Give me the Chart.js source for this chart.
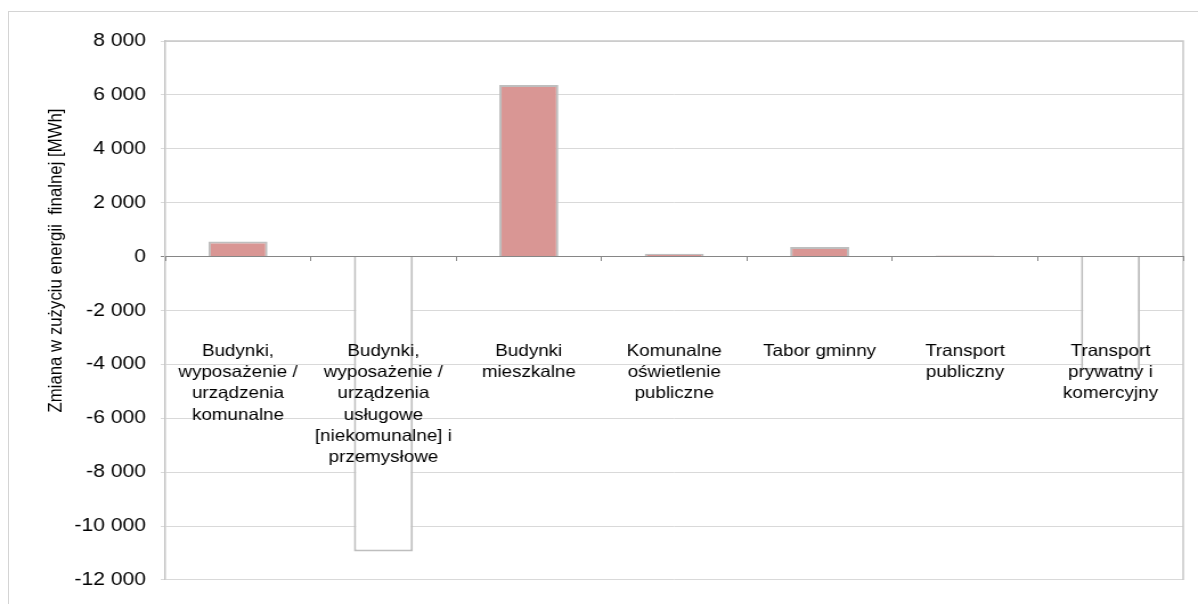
<!DOCTYPE html>
<html lang="pl">
<head>
<meta charset="utf-8">
<title>Zmiana w zużyciu energii finalnej</title>
<script src="https://cdn.jsdelivr.net/npm/chart.js@4/dist/chart.umd.min.js"></script>
<style>
  html, body { margin: 0; padding: 0; background: #fff; overflow: hidden; }
  #outer {
    position: absolute; left: 8px; top: 11px; width: 1190px; height: 593px;
    box-sizing: border-box; border-top: 1px solid #d4d4d4; border-left: 1px solid #d4d4d4;
  }
  #energyChart { position: absolute; left: 0; top: 0; }
</style>
</head>
<body>
<div id="outer"></div>
<!-- canvas is drawn narrower and stretched, like the original picture -->
<canvas id="energyChart" width="1051" height="604" style="width:1198px;height:604px"></canvas>
<script>
// ========== Data ==========
const categories = [
  ['Budynki,', 'wyposażenie /', 'urządzenia', 'komunalne'],
  ['Budynki,', 'wyposażenie /', 'urządzenia', 'usługowe', '[niekomunalne] i', 'przemysłowe'],
  ['Budynki', 'mieszkalne'],
  ['Komunalne', 'oświetlenie', 'publiczne'],
  ['Tabor gminny'],
  ['Transport', 'publiczny'],
  ['Transport', 'prywatny i', 'komercyjny']
];
const changeMWh = [560, -10950, 6370, 100, 355, 40, -4200];
const yMin = -12000;
const yMax = 8000;
const yStep = 2000;
const yTitle = 'Zmiana w zużyciu energii  finalnej [MWh]';

const FONT = "'Liberation Sans', Arial, sans-serif";

function formatThousands(v) {
  const s = String(Math.abs(v)).replace(/\B(?=(\d{3})+(?!\d))/g, ' ');
  return (v < 0 ? '-' : '') + s;
}

// ========== Plot frame + rotated axis title ==========
const plotDecor = {
  id: 'plotDecor',
  beforeDatasetsDraw(chart) {
    const {ctx, chartArea} = chart;
    ctx.save();
    ctx.strokeStyle = '#c8c8c8';
    ctx.lineWidth = 1.5;
    ctx.beginPath();
    ctx.moveTo(chartArea.left, chartArea.top);
    ctx.lineTo(chartArea.right, chartArea.top);
    ctx.lineTo(chartArea.right, chartArea.bottom);
    ctx.stroke();
    ctx.restore();
  },
  afterDraw(chart) {
    const ctx = chart.ctx;
    ctx.save();
    ctx.translate(54, 260.5);
    ctx.rotate(-Math.PI / 2);
    ctx.font = '16.8px ' + FONT;
    ctx.fillStyle = '#000';
    ctx.textAlign = 'center';
    ctx.textBaseline = 'alphabetic';
    ctx.fillText(yTitle, 0, 0);
    ctx.restore();
  }
};

// ========== Chart ==========
const ctx = document.getElementById('energyChart').getContext('2d');
const energyChart = new Chart(ctx, {
  type: 'bar',
  data: {
    labels: categories,
    datasets: [{
      data: changeMWh,
      backgroundColor: changeMWh.map(v => (v < 0 ? '#ffffff' : '#d99694')),
      borderColor: '#bebebe',
      borderWidth: 2,
      barPercentage: 0.406,
      categoryPercentage: 1
    }]
  },
  options: {
    responsive: false,
    animation: false,
    devicePixelRatio: 1,
    layout: { padding: { top: 41, right: 13, bottom: 22, left: 0 } },
    plugins: {
      legend: { display: false },
      tooltip: { enabled: false }
    },
    scales: {
      x: {
        position: { y: 0 },
        // labels sit inside the plot, so they need no side margin
        afterFit(scale) { scale.paddingLeft = 0; scale.paddingRight = 0; },
        grid: {
          z: 1,
          drawOnChartArea: false,
          drawTicks: true,
          tickLength: 4,
          color: '#868686'
        },
        border: { z: 1, color: '#868686', width: 1 },
        ticks: {
          z: 1,
          color: '#000',
          font: { family: FONT, size: 16.5, lineHeight: 1.29 },
          padding: 80,
          maxRotation: 0,
          autoSkip: false
        }
      },
      y: {
        min: yMin,
        max: yMax,
        afterFit(scale) { scale.width = 145; },
        grid: {
          color: c => (c.tick && c.tick.value === 0 ? '#868686' : '#d9d9d9'),
          tickLength: 4
        },
        border: { color: '#c4c4c4', width: 1.5 },
        ticks: {
          stepSize: yStep,
          color: '#000',
          padding: 13,
          font: { family: FONT, size: 18.5 },
          callback: v => formatThousands(v)
        }
      }
    }
  },
  plugins: [plotDecor]
});
</script>
</body>
</html>
